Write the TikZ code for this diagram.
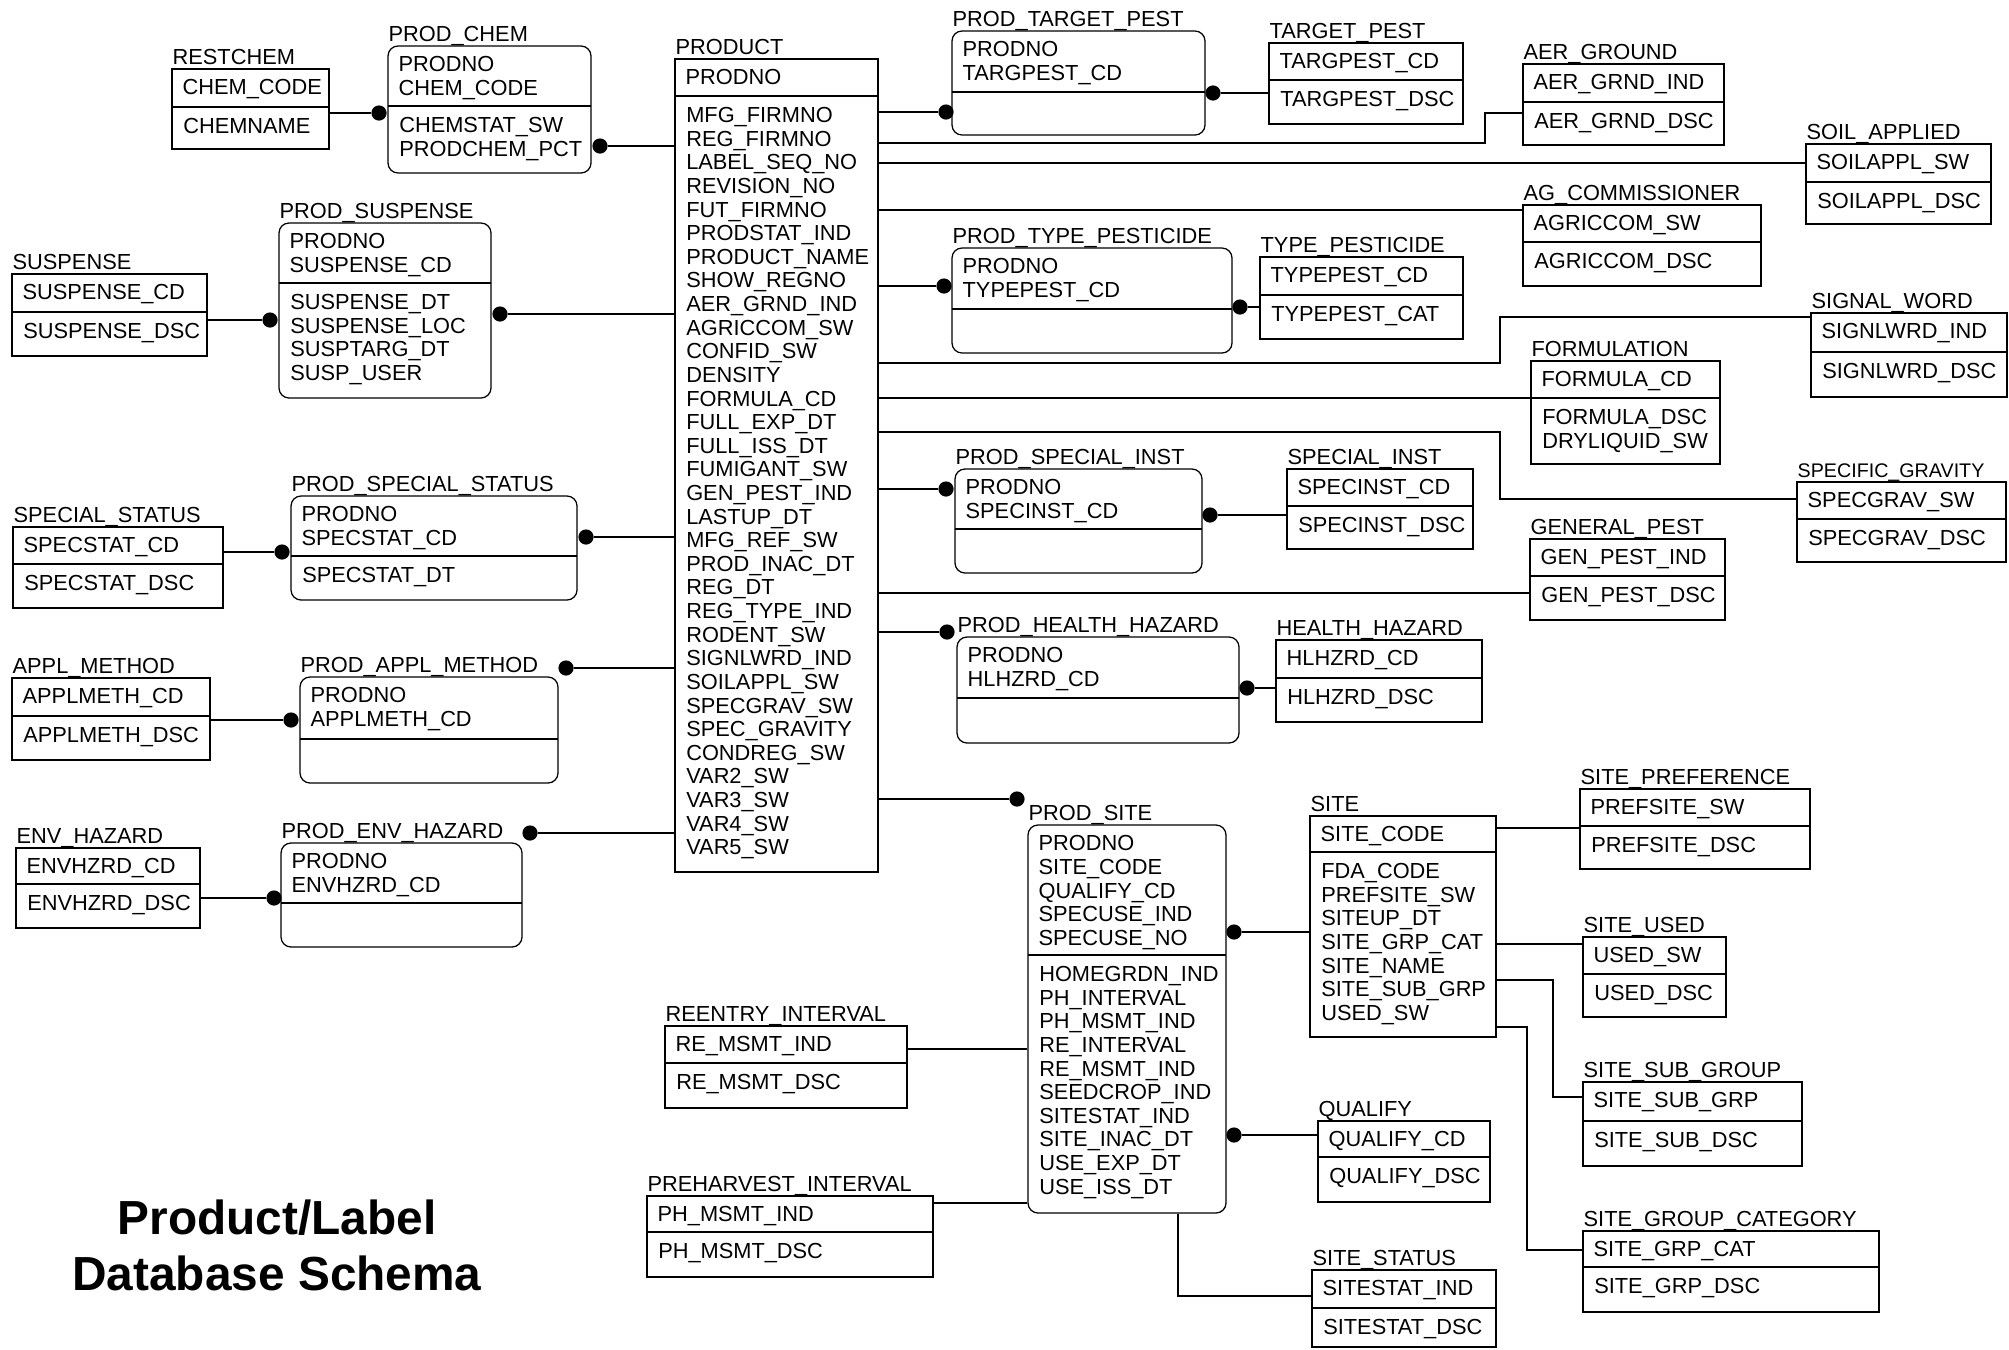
\documentclass[tikz,border=0pt]{standalone}
\usepackage{fontspec}
\setmainfont{Liberation Sans}
\usetikzlibrary{fit}

\begin{document}
\begin{tikzpicture}[
  x=0.025cm, y=-0.025cm,
  tbl/.style={draw, line width=0.9pt, inner sep=0pt},
  ent/.style={tbl, rounded corners=0.25cm},
  sep/.style={line width=1.1pt},
  ttl/.style={anchor=base west, inner sep=0pt, font={\fontsize{15.5}{16.8}\selectfont}},
  fld/.style={anchor=north west, inner sep=0pt, align=left, font={\fontsize{15.5}{16.8}\selectfont}},
  dot/.style={circle, fill, inner sep=0pt, minimum size=0.38cm},
  link/.style={line width=0.8pt},
  trunk/.style={line width=1.6pt},
  heading/.style={align=center, font={\bfseries\fontsize{34}{39.8}\selectfont}}
]
\path[use as bounding box, fill=white] (0,0) rectangle (2009,1349);

% plain tables: name/x1/y1/x2/divider/y2/title/key/attributes
\foreach \nm/\xa/\ya/\xb/\yd/\yb/\tl/\fa/\fb in {
  restchem/172/69/329/107/149/RESTCHEM/{CHEM\_CODE}/{CHEMNAME},
  suspense/12/274/207/312/356/SUSPENSE/{SUSPENSE\_CD}/{SUSPENSE\_DSC},
  specstatus/13/527/223/564/608/{SPECIAL\_STATUS}/{SPECSTAT\_CD}/{SPECSTAT\_DSC},
  applmethod/12/678/210/716/760/{APPL\_METHOD}/{APPLMETH\_CD}/{APPLMETH\_DSC},
  envhazard/16/848/200/884/928/{ENV\_HAZARD}/{ENVHZRD\_CD}/{ENVHZRD\_DSC},
  product/675/59/878/96/872/PRODUCT/{PRODNO}/{MFG\_FIRMNO\\REG\_FIRMNO\\LABEL\_SEQ\_NO\\REVISION\_NO\\FUT\_FIRMNO\\PRODSTAT\_IND\\PRODUCT\_NAME\\SHOW\_REGNO\\AER\_GRND\_IND\\AGRICCOM\_SW\\CONFID\_SW\\DENSITY\\FORMULA\_CD\\FULL\_EXP\_DT\\FULL\_ISS\_DT\\FUMIGANT\_SW\\GEN\_PEST\_IND\\LASTUP\_DT\\MFG\_REF\_SW\\PROD\_INAC\_DT\\REG\_DT\\REG\_TYPE\_IND\\RODENT\_SW\\SIGNLWRD\_IND\\SOILAPPL\_SW\\SPECGRAV\_SW\\SPEC\_GRAVITY\\CONDREG\_SW\\VAR2\_SW\\VAR3\_SW\\VAR4\_SW\\VAR5\_SW},
  targetpest/1269/43/1463/80/124/{TARGET\_PEST}/{TARGPEST\_CD}/{TARGPEST\_DSC},
  aerground/1523/64/1724/102/145/{AER\_GROUND}/{AER\_GRND\_IND}/{AER\_GRND\_DSC},
  soilappl/1806/144/1991/182/224/{SOIL\_APPLIED}/{SOILAPPL\_SW}/{SOILAPPL\_DSC},
  agcomm/1523/205/1761/242/286/{AG\_COMMISSIONER}/{AGRICCOM\_SW}/{AGRICCOM\_DSC},
  typepest/1260/257/1463/295/339/{TYPE\_PESTICIDE}/{TYPEPEST\_CD}/{TYPEPEST\_CAT},
  signalword/1811/313/2007/352/397/{SIGNAL\_WORD}/{SIGNLWRD\_IND}/{SIGNLWRD\_DSC},
  formulation/1531/361/1720/398/464/FORMULATION/{FORMULA\_CD}/{FORMULA\_DSC\\DRYLIQUID\_SW},
  specgrav/1797/482/2006/519/562/{\fontsize{14}{16}\selectfont SPECIFIC\_GRAVITY}/{SPECGRAV\_SW}/{SPECGRAV\_DSC},
  specinst/1287/469/1473/506/549/{SPECIAL\_INST}/{SPECINST\_CD}/{SPECINST\_DSC},
  genpest/1530/539/1725/576/620/{GENERAL\_PEST}/{GEN\_PEST\_IND}/{GEN\_PEST\_DSC},
  hlthhazard/1276/640/1482/678/722/{HEALTH\_HAZARD}/{HLHZRD\_CD}/{HLHZRD\_DSC},
  sitepref/1580/789/1810/826/869/{SITE\_PREFERENCE}/{PREFSITE\_SW}/{PREFSITE\_DSC},
  site/1310/816/1496/852/1037/SITE/{SITE\_CODE}/{FDA\_CODE\\PREFSITE\_SW\\SITEUP\_DT\\SITE\_GRP\_CAT\\SITE\_NAME\\SITE\_SUB\_GRP\\USED\_SW},
  siteused/1583/937/1726/974/1017/{SITE\_USED}/{USED\_SW}/{USED\_DSC},
  sitesub/1583/1082/1802/1121/1166/{SITE\_SUB\_GROUP}/{SITE\_SUB\_GRP}/{SITE\_SUB\_DSC},
  sitegrp/1583/1231/1879/1267/1312/{SITE\_GROUP\_CATEGORY}/{SITE\_GRP\_CAT}/{SITE\_GRP\_DSC},
  qualify/1318/1121/1490/1157/1202/QUALIFY/{QUALIFY\_CD}/{QUALIFY\_DSC},
  sitestatus/1312/1270/1496/1308/1347/{SITE\_STATUS}/{SITESTAT\_IND}/{SITESTAT\_DSC},
  reentry/665/1026/907/1063/1108/{REENTRY\_INTERVAL}/{RE\_MSMT\_IND}/{RE\_MSMT\_DSC},
  preharvest/647/1196/933/1232/1277/{PREHARVEST\_INTERVAL}/{PH\_MSMT\_IND}/{PH\_MSMT\_DSC}}{
  \node[tbl, fit={(\xa,\ya) (\xb,\yb)}] (\nm) {};
  \draw[sep] (\xa,\yd) -- (\xb,\yd);
  \node[ttl] (\nm-t) at ([shift={(1,-4)}]\nm.north west) {\tl};
  \node[fld] (\nm-k) at ([shift={(11,11)}]\nm.north west) {\fa};
  \node[fld] (\nm-a) at (\xa+11,\yd+11) {\fb};
}

% link tables, rounded
\foreach \nm/\xa/\ya/\xb/\yd/\yb/\tl/\fa/\fb in {
  prodchem/388/46/591/106/173/{PROD\_CHEM}/{PRODNO\\CHEM\_CODE}/{CHEMSTAT\_SW\\PRODCHEM\_PCT},
  prodsusp/279/223/491/283/398/{PROD\_SUSPENSE}/{PRODNO\\SUSPENSE\_CD}/{SUSPENSE\_DT\\SUSPENSE\_LOC\\SUSPTARG\_DT\\SUSP\_USER},
  prodstat/291/496/577/556/600/{PROD\_SPECIAL\_STATUS}/{PRODNO\\SPECSTAT\_CD}/{SPECSTAT\_DT},
  prodappl/300/677/558/739/783/{PROD\_APPL\_METHOD}/{PRODNO\\APPLMETH\_CD}/{},
  prodenv/281/843/522/903/947/{PROD\_ENV\_HAZARD}/{PRODNO\\ENVHZRD\_CD}/{},
  prodtarg/952/31/1205/92/135/{PROD\_TARGET\_PEST}/{PRODNO\\TARGPEST\_CD}/{},
  prodtype/952/248/1232/309/353/{PROD\_TYPE\_PESTICIDE}/{PRODNO\\TYPEPEST\_CD}/{},
  prodinst/955/469/1202/529/573/{PROD\_SPECIAL\_INST}/{PRODNO\\SPECINST\_CD}/{},
  prodhlth/957/637/1239/698/743/{PROD\_HEALTH\_HAZARD}/{PRODNO\\HLHZRD\_CD}/{},
  prodsite/1028/825/1226/955/1213/{PROD\_SITE}/{PRODNO\\SITE\_CODE\\QUALIFY\_CD\\SPECUSE\_IND\\SPECUSE\_NO}/{HOMEGRDN\_IND\\PH\_INTERVAL\\PH\_MSMT\_IND\\RE\_INTERVAL\\RE\_MSMT\_IND\\SEEDCROP\_IND\\SITESTAT\_IND\\SITE\_INAC\_DT\\USE\_EXP\_DT\\USE\_ISS\_DT}}{
  \node[ent, fit={(\xa,\ya) (\xb,\yb)}] (\nm) {};
  \draw[sep] (\xa,\yd) -- (\xb,\yd);
  \node[ttl] (\nm-t) at ([shift={(1,-4)}]\nm.north west) {\tl};
  \node[fld] (\nm-k) at ([shift={(11,11)}]\nm.north west) {\fa};
  \node[fld] (\nm-a) at (\xa+11,\yd+11) {\fb};
}

% dots
\node[dot] (pchem-l) at (379,113) {};
\node[dot] (pchem-r) at (600,146) {};
\node[dot] (psusp-l) at (270,320) {};
\node[dot] (psusp-r) at (500,314) {};
\node[dot] (pstat-l) at (282,552) {};
\node[dot] (pstat-r) at (586,537) {};
\node[dot] (pappl-l) at (291,720) {};
\node[dot] (pappl-r) at (566,668) {};
\node[dot] (penv-l) at (274,898) {};
\node[dot] (penv-r) at (530,833) {};
\node[dot] (ptarg-l) at (946,112) {};
\node[dot] (ptarg-r) at (1213,93) {};
\node[dot] (ptype-l) at (944,286) {};
\node[dot] (ptype-r) at (1240,307) {};
\node[dot] (pinst-l) at (946,489) {};
\node[dot] (pinst-r) at (1210,515) {};
\node[dot] (phlth-l) at (947,632) {};
\node[dot] (phlth-r) at (1247,688) {};
\node[dot] (psite-p) at (1017,799) {};
\node[dot] (psite-s) at (1234,932) {};
\node[dot] (psite-q) at (1234,1135) {};

% left side
\draw[link] (restchem.east |- pchem-l) -- (pchem-l);
\draw[link] (pchem-r) -- (product.west |- pchem-r);
\draw[link] (suspense.east |- psusp-l) -- (psusp-l);
\draw[link] (psusp-r) -- (product.west |- psusp-r);
\draw[link] (specstatus.east |- pstat-l) -- (pstat-l);
\draw[link] (pstat-r) -- (product.west |- pstat-r);
\draw[link] (applmethod.east |- pappl-l) -- (pappl-l);
\draw[link] (pappl-r) -- (product.west |- pappl-r);
\draw[link] (envhazard.east |- penv-l) -- (penv-l);
\draw[link] (penv-r) -- (product.west |- penv-r);

% right side
\draw[link] (product.east |- ptarg-l) -- (ptarg-l);
\draw[link] (ptarg-r) -- (targetpest.west |- ptarg-r);
\draw[trunk] (product.east |- 0,143) -| (1485,113) -- (aerground.west |- 0,113);
\draw[trunk] (product.east |- 0,163) -- (soilappl.west |- 0,163);
\draw[trunk] (product.east |- 0,210) -- (agcomm.west |- 0,210);
\draw[link] (product.east |- ptype-l) -- (ptype-l);
\draw[link] (ptype-r) -- (typepest.west |- ptype-r);
\draw[trunk] (product.east |- 0,363) -| (1500,317) -- (signalword.west |- 0,317);
\draw[trunk] (product.east |- 0,398) -- (formulation.west |- 0,398);
\draw[trunk] (product.east |- 0,432) -| (1500,499) -- (specgrav.west |- 0,499);
\draw[link] (product.east |- pinst-l) -- (pinst-l);
\draw[link] (pinst-r) -- (specinst.west |- pinst-r);
\draw[trunk] (product.east |- 0,593) -- (genpest.west |- 0,593);
\draw[link] (product.east |- phlth-l) -- (phlth-l);
\draw[link] (phlth-r) -- (hlthhazard.west |- phlth-r);
\draw[link] (product.east |- psite-p) -- (psite-p);

% site part
\draw[link] (psite-s) -- (site.west |- psite-s);
\draw[link] (psite-q) -- (qualify.west |- psite-q);
\draw[trunk] (prodsite.south -| 1178,0) |- (sitestatus.west |- 0,1296);
\draw[trunk] (reentry.east |- 0,1049) -- (prodsite.west |- 0,1049);
\draw[trunk] (preharvest.east |- 0,1203) -- (prodsite.west |- 0,1203);
\draw[trunk] (site.east |- 0,828) -- (sitepref.west |- 0,828);
\draw[trunk] (site.east |- 0,944) -- (siteused.west |- 0,944);
\draw[trunk] (site.east |- 0,980) -| (1553,1097) -- (sitesub.west |- 0,1097);
\draw[trunk] (site.east |- 0,1027) -| (1527,1250) -- (sitegrp.west |- 0,1250);

\node[heading] (heading) at (277,1245) {Product/Label\\Database Schema};
\end{tikzpicture}
\end{document}
